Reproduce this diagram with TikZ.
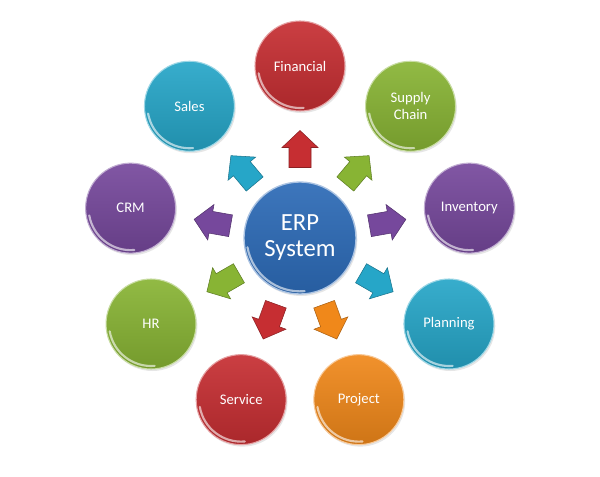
\documentclass[tikz,border=0pt]{standalone}
\usepackage{fontspec}
\setmainfont{Carlito}
\usepackage{xcolor}
\usetikzlibrary{calc,shadows}
\definecolor{erpblue}{RGB}{44,106,182}
\definecolor{finred}{RGB}{198,46,50}
\definecolor{leafgreen}{RGB}{136,180,52}
\definecolor{plum}{RGB}{118,72,156}
\definecolor{skycyan}{RGB}{38,166,200}
\definecolor{amber}{RGB}{240,136,26}
\tikzset{
hub/.style={
circle,
minimum size=84pt,
inner sep=0pt,
align=center,
text=white,
font=\fontsize{18.5}{19.5}\selectfont,
top color=erpblue!92!white,
middle color=erpblue,
bottom color=erpblue!88!black,
draw=erpblue!40!white,
line width=1pt,
drop shadow={opacity=.2,shadow xshift=1pt,shadow yshift=-1.5pt}
},
module/.style={
circle,
minimum size=67.5pt,
inner sep=0pt,
align=center,
text=white,
font=\fontsize{11}{12.5}\selectfont,
top color=#1!92!white,
middle color=#1,
bottom color=#1!86!black,
draw=#1!45!white,
line width=.8pt,
drop shadow={opacity=.2,shadow xshift=1pt,shadow yshift=-1.5pt}
},
gloss/.style={
white,
opacity=.6,
line width=1.6pt,
line cap=round
},
pics/blockarrow/.style={
code={
\path[pic actions] (-18.5,-11) -- (1.5,-11) -- (1.5,-18) -- (18.5,0)
-- (1.5,18) -- (1.5,11) -- (-18.5,11) -- cycle;
}
}
}

\begin{document}
\begin{tikzpicture}[x=0.75pt,y=0.75pt]
\useasboundingbox (0,0) rectangle (600,476);
\node[hub](erp) at (300,238){ERP\\System};

% modules round the hub, every 40 degrees
\foreach \a/\n/\t/\c in {90/fin/Financial/finred,50/sup/{Supply\\Chain}/leafgreen,
10/inv/Inventory/plum,-30/pla/Planning/skycyan,-70/pro/Project/amber,
-110/ser/Service/finred,-150/hr/HR/leafgreen,170/crm/CRM/plum,130/sal/Sales/skycyan}{
\node[module=\c](\n) at ($(erp)+(\a:172)$){\t};
\draw[gloss] ($(\n.center)+(190:31.5pt)$) arc[start angle=190,end angle=275,radius=31.5pt];
\pic[rotate=\a,fill=\c,draw=\c!70!black,thin](arr\n) at ($(erp)+(\a:89)$){blockarrow};
}
\draw[gloss] ($(erp.center)+(190:40pt)$) arc[start angle=190,end angle=275,radius=40pt];
\end{tikzpicture}
\end{document}
